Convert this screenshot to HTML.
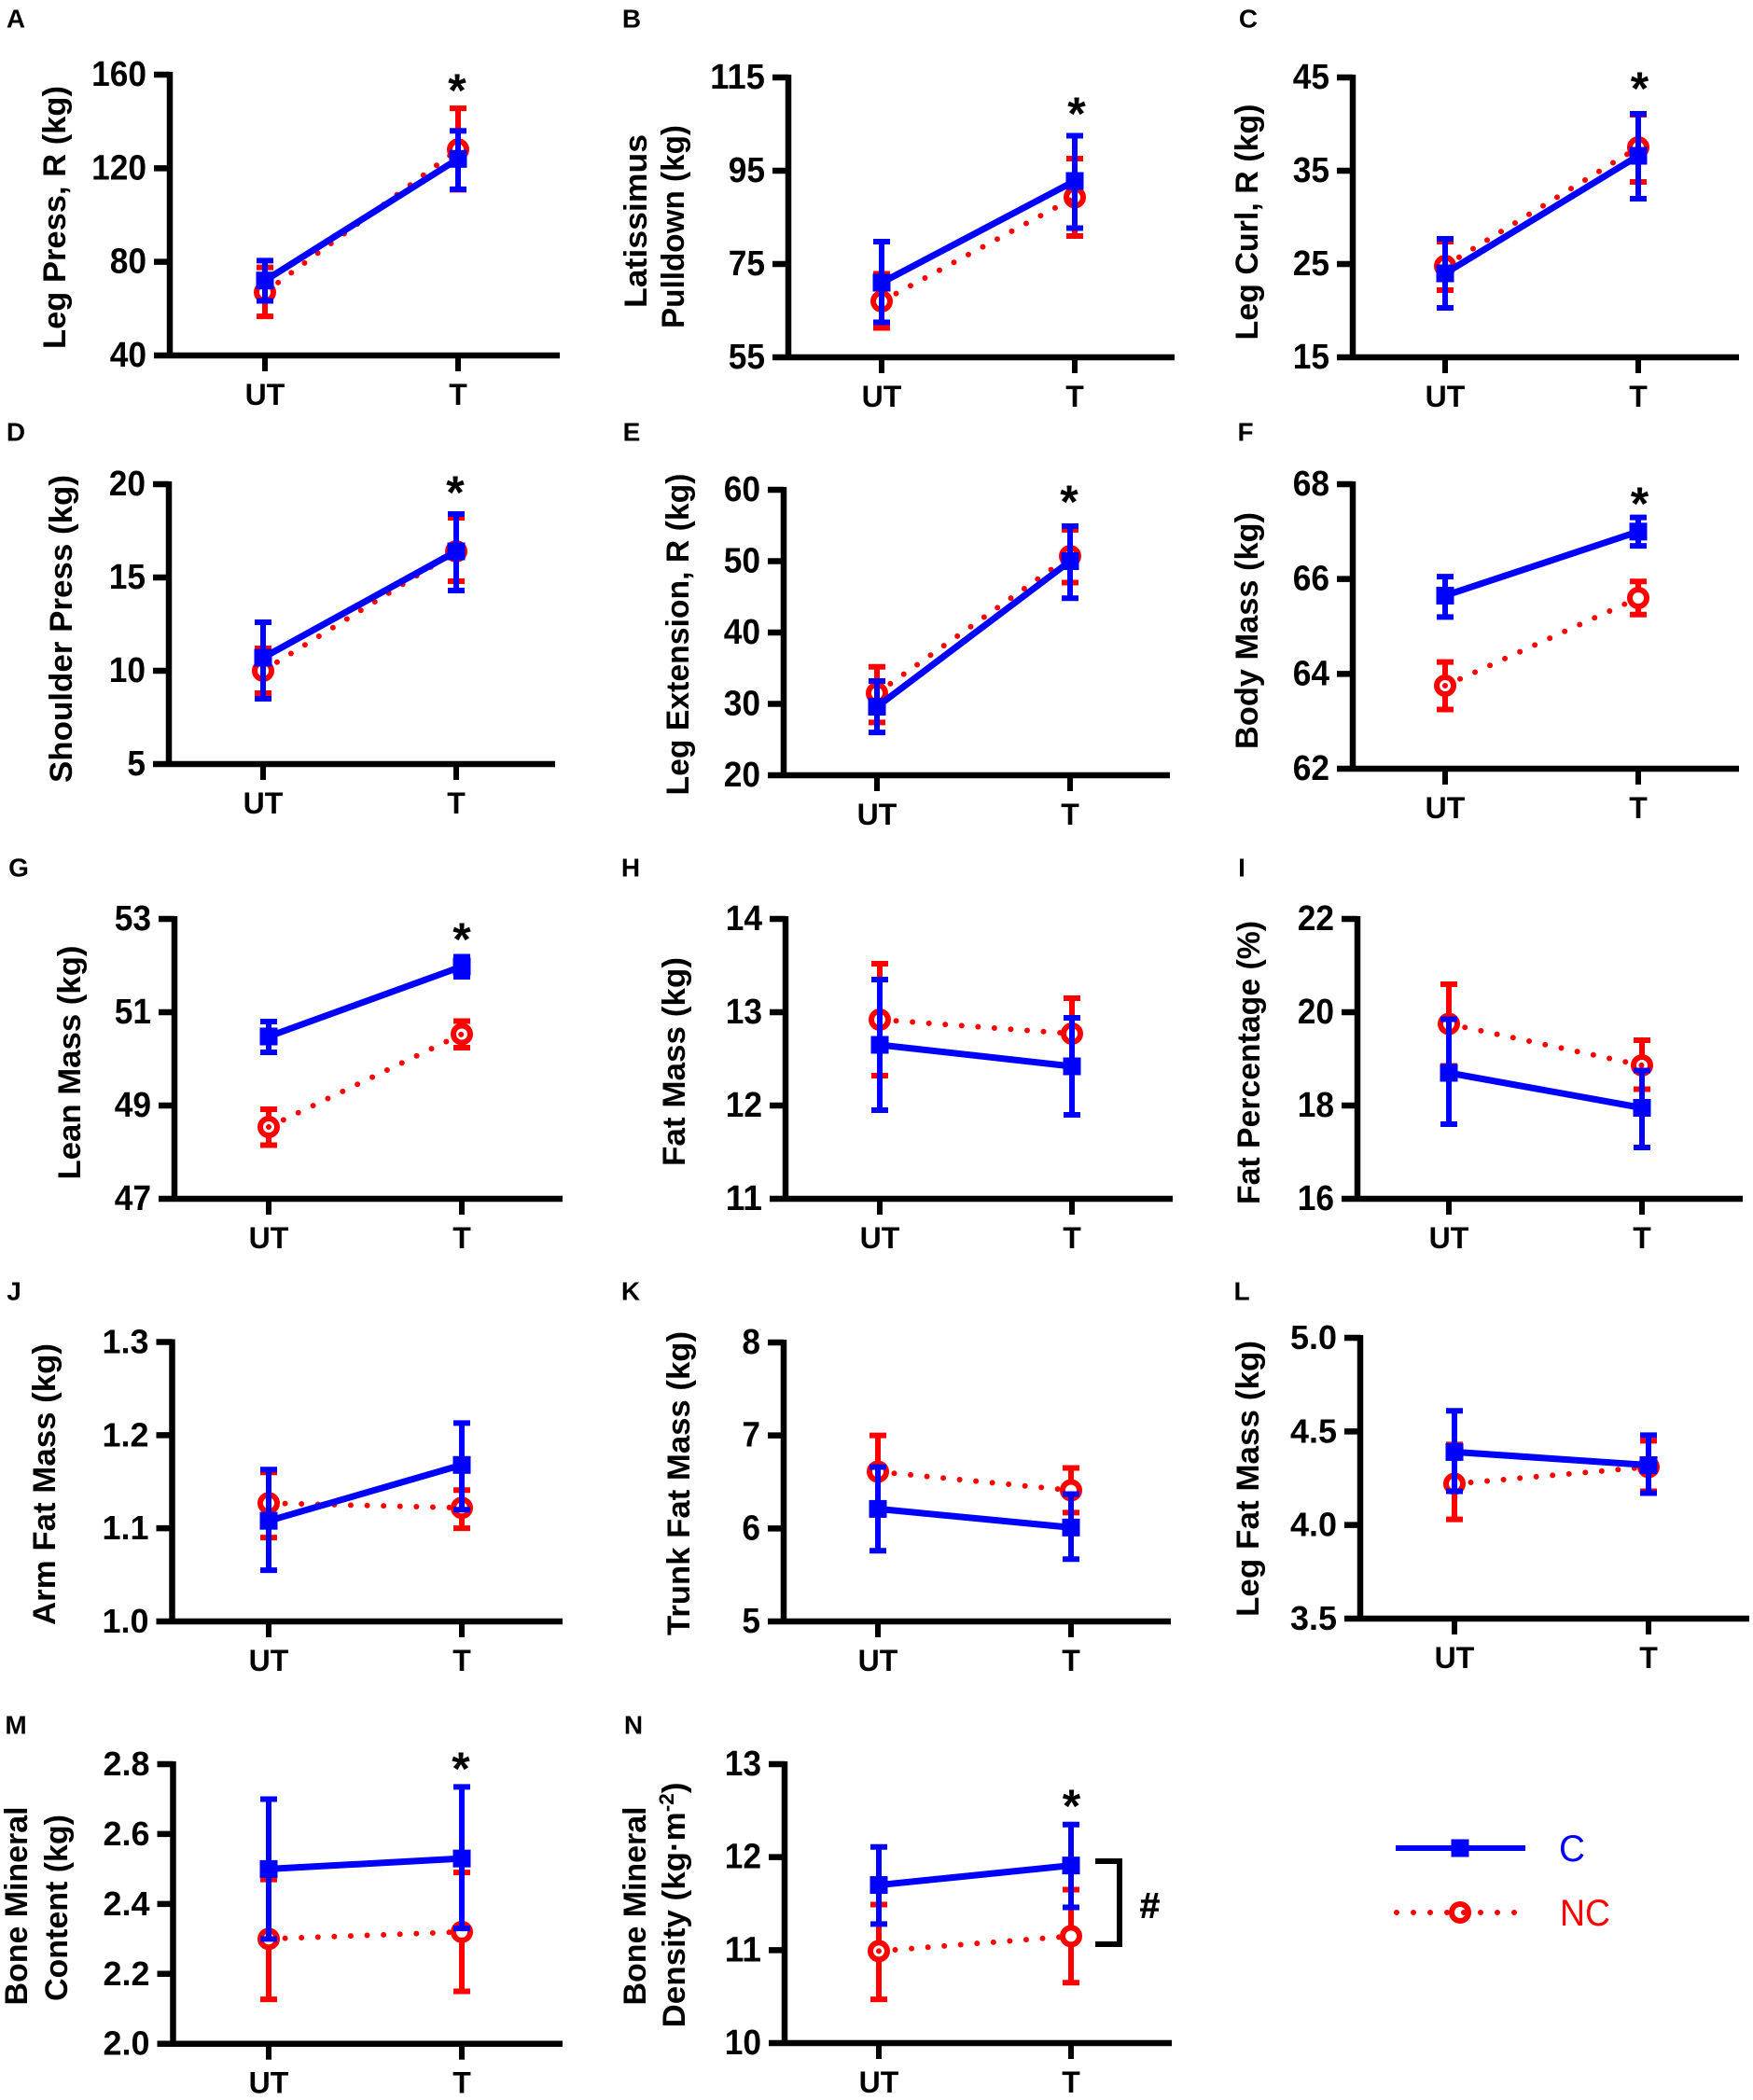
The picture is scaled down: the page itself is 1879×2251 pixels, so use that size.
<!DOCTYPE html>
<html lang="en">
<head>
<meta charset="utf-8">
<title>Training outcomes by group</title>
<style>
html,body{margin:0;padding:0;background:#fff;}
svg{display:block;font-family:"Liberation Sans",Arial,sans-serif;}
</style>
</head>
<body>
<svg id="figure" xmlns="http://www.w3.org/2000/svg" width="1879" height="2251" viewBox="0 0 1879 2251"></svg>
<script>
// ---- data ----
const categories = ['UT', 'T'];
const panelLetters = ['A','B','C','D','E','F','G','H','I','J','K','L','M','N'];
const panelTitles = [
  ['Leg Press, R (kg)'],
  ['Latissimus','Pulldown (kg)'],
  ['Leg Curl, R (kg)'],
  ['Shoulder Press (kg)'],
  ['Leg Extension, R (kg)'],
  ['Body Mass (kg)'],
  ['Lean Mass (kg)'],
  ['Fat Mass (kg)'],
  ['Fat Percentage (%)'],
  ['Arm Fat Mass (kg)'],
  ['Trunk Fat Mass (kg)'],
  ['Leg Fat Mass (kg)'],
  ['Bone Mineral','Content (kg)'],
  ['Bone Mineral','Density (kg\u00b7m^-2^)']
];
const tickLabels = [
  ['40','80','120','160'],
  ['55','75','95','115'],
  ['15','25','35','45'],
  ['5','10','15','20'],
  ['20','30','40','50','60'],
  ['62','64','66','68'],
  ['47','49','51','53'],
  ['11','12','13','14'],
  ['16','18','20','22'],
  ['1.0','1.1','1.2','1.3'],
  ['5','6','7','8'],
  ['3.5','4.0','4.5','5.0'],
  ['2.0','2.2','2.4','2.6','2.8'],
  ['10','11','12','13']
];
const cMean = [[72,124],[71,92.8],[24,36.6],[10.7,16.4],[29.6,50],[65.65,67],[50.48,51.98],[12.65,12.42],[18.7,17.95],[1.108,1.168],[6.21,6.01],[4.39,4.32],[2.5,2.53],[11.7,11.91]];
const cHigh = [[80.5,136],[79.8,102.5],[27.7,41.1],[12.6,18.4],[33.2,54.9],[66.05,67.3],[50.8,52.19],[13.35,12.94],[19.85,18.75],[1.163,1.213],[6.66,6.37],[4.61,4.48],[2.7,2.735],[12.11,12.35]];
const cLow  = [[63.3,111],[62.5,82.7],[20.3,32],[8.5,14.3],[26,44.8],[65.2,66.7],[50.14,51.76],[11.95,11.9],[17.6,17.1],[1.055,1.12],[5.76,5.67],[4.18,4.17],[2.3,2.33],[11.28,11.46]];
const ncMean = [[67,128],[67,89.3],[24.8,37.5],[10,16.4],[31.5,50.7],[63.75,65.6],[48.54,50.53],[12.92,12.77],[19.75,18.86],[1.127,1.122],[6.61,6.41],[4.22,4.31],[2.3,2.32],[10.99,11.15]];
const ncHigh = [[77.6,145.6],[72.9,97.6],[27.4,41],[11.2,18.2],[35.2,54.4],[64.25,65.95],[48.92,50.81],[13.52,13.15],[20.6,19.4],[1.16,1.141],[7,6.65],[4.43,4.45],[2.47,2.49],[11.49,11.65]];
const ncLow  = [[56.7,110.8],[61.3,81],[22.2,33.8],[8.8,14.8],[27.4,47],[63.25,65.25],[48.15,50.24],[12.32,12.38],[18.85,18.35],[1.09,1.10],[6.2,6.17],[4.03,4.18],[2.127,2.15],[10.47,10.65]];
const significant = [true,true,true,true,true,true,true,false,false,false,false,false,true,true];
const seriesNames = ['C','NC'];

// ---- layout (axis frames, not data): axisX, top, bottom, utX, tX, right ----
const frames = [
  [182,80,381,284,491,600],
  [845,83,383,945,1152,1259],
  [1450,83,383,1549,1756,1864],
  [181,519,819,282,489,595],
  [840,525,831,940,1147,1254],
  [1450,519,824,1549,1756,1864],
  [187,985,1285,288,495,603],
  [842,985,1285,943,1149,1257],
  [1455,985,1285,1553,1760,1868],
  [184.5,1438.5,1738,288,495,603],
  [840,1439,1738,941,1148,1255],
  [1458,1434,1735,1559,1767,1875],
  [185.5,1891,2190.7,288,495,603],
  [841,1891,2190,942,1148,1256]
];
// title layout: baseline x per line, centre y, length per line
const titleX = [[70],[693,733],[1348],[77],[738],[1348],[86],[734],[1350],[59],[739],[1349],[29,72],[692,734]];
const titleY = [233,[237,243],238,674,680,676,1139,1138,1139,1591,1590,1585,[2043,2045],[2043,2042]];
const titleLen = [[282],[186,218],[253],[330],[345],[254],[251],[224],[304],[302],[326],[296],[213,200],[213,263]];
const letterPos = [[17,19],[677,19],[1338,19],[17,462],[677,462],[1335,462],[20,929],[676,929],[1331,929],[15,1383],[676,1383],[1331,1383],[17,1848],[679,1848]];
const starY = [85,110,83,516,526,528,995,0,0,0,0,0,1884,1924];
const starDx = [-1,2,1.5,-1,-1,1.5,0,0,0,0,0,0,-1,0.5];

const svg = document.getElementById('figure');
const NS = 'http://www.w3.org/2000/svg';
function make(tag, attrs, parent){
  const n = document.createElementNS(NS, tag);
  for (const k in attrs) n.setAttribute(k, attrs[k]);
  parent.appendChild(n);
  return n;
}
const BLUE = '#0000ff', RED = '#ff0000', BLACK = '#000';

function drawTickLabel(g, text, x, y){
  const hasDot = text.indexOf('.') >= 0;
  const size = hasDot ? 36 : 38;
  const squeeze = hasDot ? 1 : 0.93;
  let em = 0;
  for (const ch of text) em += ch === '.' ? 0.278 : 0.556;
  const t = make('text', {x:x, y:y+13, 'text-anchor':'end', 'font-size':size, 'font-weight':'bold', fill:BLACK, textLength:(em*size*squeeze).toFixed(1), lengthAdjust:'spacingAndGlyphs'}, g);
  t.textContent = text;
  
  
}

function drawTitleLine(g, line, x, cy, len){
  const t = make('text', {transform:'translate('+x+','+cy+') rotate(-90)', 'text-anchor':'middle', 'font-size':34, 'font-weight':'bold', fill:BLACK, textLength:len, lengthAdjust:'spacingAndGlyphs'}, g);
  
  
  const parts = line.split('^');
  if (parts.length === 1) { t.textContent = line; return; }
  const a = make('tspan', {}, t); a.textContent = parts[0];
  const b = make('tspan', {dy:-12, 'font-size':22}, t); b.textContent = parts[1];
  const c = make('tspan', {dy:12}, t); c.textContent = parts[2];
}

function drawSeries(g, isC, means, highs, lows, xs, ys){
  const color = isC ? BLUE : RED;
  const sg = make('g', {}, g);
  
  
  means.forEach(function(m, i){
    const x = xs(i);
    const bar = make('path', {d:'M'+x+' '+ys(highs[i])+'V'+ys(lows[i])+'M'+(x-9)+' '+ys(highs[i])+'H'+(x+9)+'M'+(x-9)+' '+ys(lows[i])+'H'+(x+9), stroke:color, 'stroke-width':6, fill:'none'}, sg);
    
    
  });
  if (!isC) {
    means.forEach(function(m, i){
      const c = make('circle', {cx:xs(i), cy:ys(m), r:9, fill:'#fff', stroke:color, 'stroke-width':6}, sg);
      
      
    });
  }
  const ln = make('line', {x1:xs(0), y1:ys(means[0]), x2:xs(1), y2:ys(means[1]), stroke:color, 'stroke-width':isC ? 7 : 6, 'stroke-linecap':isC ? 'butt' : 'round', 'stroke-dasharray':isC ? 'none' : '0 17.6'}, sg);
  
  
  if (isC) {
    means.forEach(function(m, i){
      const r = make('rect', {x:xs(i)-9.5, y:ys(m)-9.5, width:19, height:19, fill:color}, sg);
      
      
    });
  }
}

panelLetters.forEach(function(letter, p){
  const f = frames[p], ax = f[0], top = f[1], bot = f[2], ut = f[3], tx = f[4], right = f[5];
  const g = make('g', {}, svg);
  
  

  const lab = make('text', {x:letterPos[p][0], y:letterPos[p][1]+10.5, 'text-anchor':'middle', 'font-size':28, 'font-weight':'bold', fill:BLACK}, g);
  lab.textContent = letter;
  
  

  const vals = tickLabels[p].map(parseFloat);
  const vmin = vals[0], vmax = vals[vals.length-1];
  const ys = function(v){ return bot - (v - vmin) / (vmax - vmin) * (bot - top); };
  const xs = function(i){ return ut + (tx - ut) * i; };

  const yAxis = make('line', {x1:ax, x2:ax, y1:top-3, y2:bot+3, stroke:BLACK, 'stroke-width':6.5}, g);
  
  
  const xAxis = make('line', {x1:ax-17, x2:right, y1:bot, y2:bot, stroke:BLACK, 'stroke-width':6.5}, g);
  
  

  tickLabels[p].forEach(function(text, i){
    const y = ys(vals[i]);
    if (i > 0) {
      const tk = make('line', {x1:ax-17, x2:ax, y1:y, y2:y, stroke:BLACK, 'stroke-width':6.5}, g);
      
      
    }
    drawTickLabel(g, text, ax-25, y-1);
  });

  categories.forEach(function(cat, i){
    const tk = make('line', {x1:xs(i), x2:xs(i), y1:bot, y2:bot+17, stroke:BLACK, 'stroke-width':6}, g);
    
    
    const t = make('text', {x:xs(i), y:bot+53, 'text-anchor':'middle', 'font-size':32, 'font-weight':'bold', fill:BLACK}, g);
    t.textContent = cat;
    
    
  });

  panelTitles[p].forEach(function(line, i){
    const cy = Array.isArray(titleY[p]) ? titleY[p][i] : titleY[p];
    drawTitleLine(g, line, titleX[p][i], cy, titleLen[p][i]);
  });

  drawSeries(g, false, ncMean[p], ncHigh[p], ncLow[p], xs, ys);
  drawSeries(g, true, cMean[p], cHigh[p], cLow[p], xs, ys);

  if (significant[p]) {
    const st = make('text', {x:xs(1)+starDx[p], y:starY[p]+29, 'text-anchor':'middle', 'font-size':50, 'font-weight':'bold', fill:BLACK}, g);
    st.textContent = '*';
    
    
  }
});

// group-difference bracket on panel N
const bracket = make('path', {d:'M1174 1995H1200V2084H1174', fill:'none', stroke:BLACK, 'stroke-width':6}, svg);


const hash = make('text', {x:1232.5, y:2056, 'text-anchor':'middle', 'font-size':39, 'font-weight':'bold', fill:BLACK, stroke:BLACK, 'stroke-width':0.6}, svg);
hash.textContent = '#';



// legend
const legend = make('g', {}, svg);


const legC = make('g', {}, legend);


make('line', {x1:1496, x2:1635, y1:1981, y2:1981, stroke:BLUE, 'stroke-width':6}, legC);
make('rect', {x:1555.5, y:1971.5, width:19, height:19, fill:BLUE}, legC);
const legCT = make('text', {x:1671, y:1995, 'font-size':40, fill:BLUE, textLength:28, lengthAdjust:'spacingAndGlyphs'}, legC);
legCT.textContent = seriesNames[0];
const legN = make('g', {}, legend);


make('circle', {cx:1565, cy:2050, r:9, fill:'#fff', stroke:RED, 'stroke-width':6}, legN);
make('line', {x1:1497, x2:1625, y1:2050, y2:2050, stroke:RED, 'stroke-width':6, 'stroke-linecap':'round', 'stroke-dasharray':'0 18'}, legN);
const legNT = make('text', {x:1672, y:2064, 'font-size':40, fill:RED, textLength:54, lengthAdjust:'spacingAndGlyphs'}, legN);
legNT.textContent = seriesNames[1];
</script>
</body>
</html>
